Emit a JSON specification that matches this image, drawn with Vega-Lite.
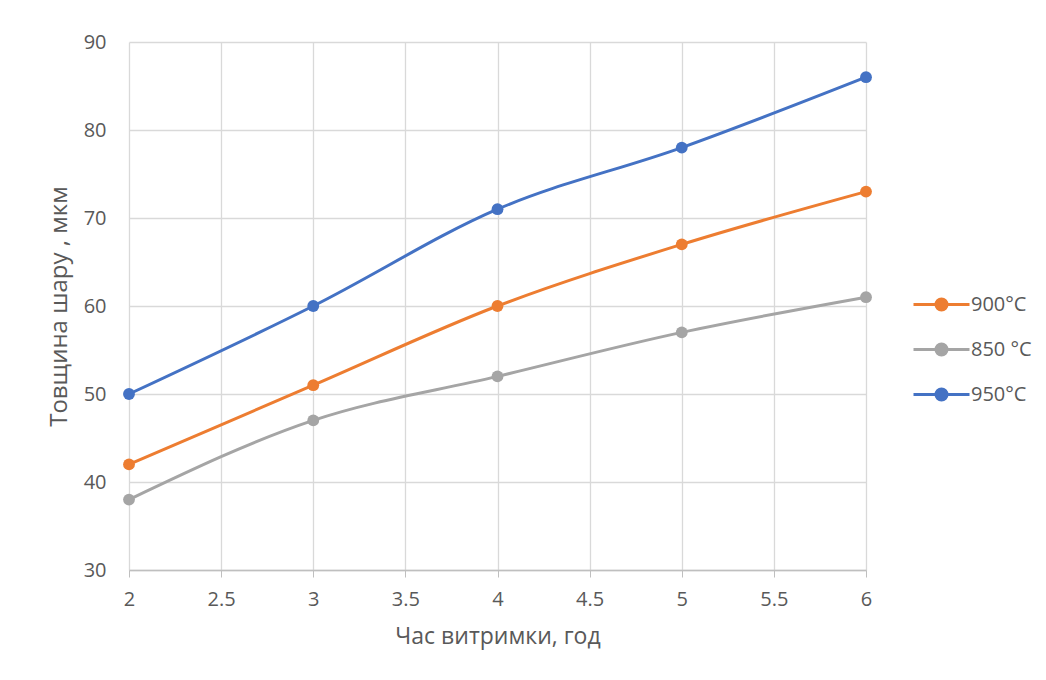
{
  "$schema": "https://vega.github.io/schema/vega-lite/v6.json",
  "width": 737,
  "height": 528,
  "autosize": {"type": "none"},
  "padding": {"left": 129, "top": 42, "right": 180, "bottom": 110},
  "background": "white",
  "config": {
    "font": "Open Sans",
    "view": {"stroke": null},
    "axis": {
      "labelFont": "Open Sans",
      "titleFont": "Open Sans",
      "labelColor": "#595959",
      "titleColor": "#595959",
      "labelFontSize": 20,
      "titleFontSize": 21,
      "titleFontWeight": "normal",
      "gridColor": "#D9D9D9",
      "gridWidth": 1.3,
      "domainColor": "#BFBFBF",
      "domainWidth": 1.5,
      "tickColor": "#BFBFBF"
    }
  },
  "data": {
    "values": [
      {"t": 2, "v": 42, "s": "900°C"},
      {"t": 3, "v": 51, "s": "900°C"},
      {"t": 4, "v": 60, "s": "900°C"},
      {"t": 5, "v": 67, "s": "900°C"},
      {"t": 6, "v": 73, "s": "900°C"},
      {"t": 2, "v": 38, "s": "850 °C"},
      {"t": 3, "v": 47, "s": "850 °C"},
      {"t": 4, "v": 52, "s": "850 °C"},
      {"t": 5, "v": 57, "s": "850 °C"},
      {"t": 6, "v": 61, "s": "850 °C"},
      {"t": 2, "v": 50, "s": "950°C"},
      {"t": 3, "v": 60, "s": "950°C"},
      {"t": 4, "v": 71, "s": "950°C"},
      {"t": 5, "v": 78, "s": "950°C"},
      {"t": 6, "v": 86, "s": "950°C"}
    ]
  },
  "mark": {
    "type": "line",
    "interpolate": "monotone",
    "strokeWidth": 3,
    "point": {"filled": true, "size": 140, "opacity": 1}
  },
  "encoding": {
    "x": {
      "field": "t",
      "type": "quantitative",
      "scale": {"domain": [2, 6], "nice": false, "zero": false},
      "axis": {
        "title": "Час витримки, год",
        "titleFontSize": 23,
        "values": [2, 2.5, 3, 3.5, 4, 4.5, 5, 5.5, 6],
        "format": "~g",
        "tickSize": 7,
        "labelPadding": 12,
        "titlePadding": 16,
        "labelFlush": false
      }
    },
    "y": {
      "field": "v",
      "type": "quantitative",
      "scale": {"domain": [30, 90], "nice": false, "zero": false},
      "axis": {
        "title": "Товщина шару , мкм",
        "titleFontSize": 24,
        "values": [30, 40, 50, 60, 70, 80, 90],
        "ticks": false,
        "domain": false,
        "labelPadding": 23,
        "titlePadding": 12
      }
    },
    "color": {
      "field": "s",
      "type": "nominal",
      "sort": ["900°C", "850 °C", "950°C"],
      "scale": {"domain": ["900°C", "850 °C", "950°C"], "range": ["#ED7D31", "#A5A5A5", "#4472C4"]},
      "legend": {
        "title": null,
        "orient": "none",
        "legendX": 801,
        "legendY": 251,
        "symbolType": "M-2.8,0H2.8M0.55,0A0.55,0.55,0,1,1,-0.55,0A0.55,0.55,0,1,1,0.55,0Z",
        "symbolSize": 400,
        "symbolStrokeWidth": 3,
        "labelFontSize": 20,
        "labelColor": "#595959",
        "labelFont": "Open Sans",
        "rowPadding": 22,
        "labelOffset": 18,
        "encode": {
          "symbols": {
            "update": {
              "fill": {"scale": "color", "field": "value"},
              "fillOpacity": {"value": 1},
              "opacity": {"value": 1}
            }
          }
        }
      }
    }
  }
}
